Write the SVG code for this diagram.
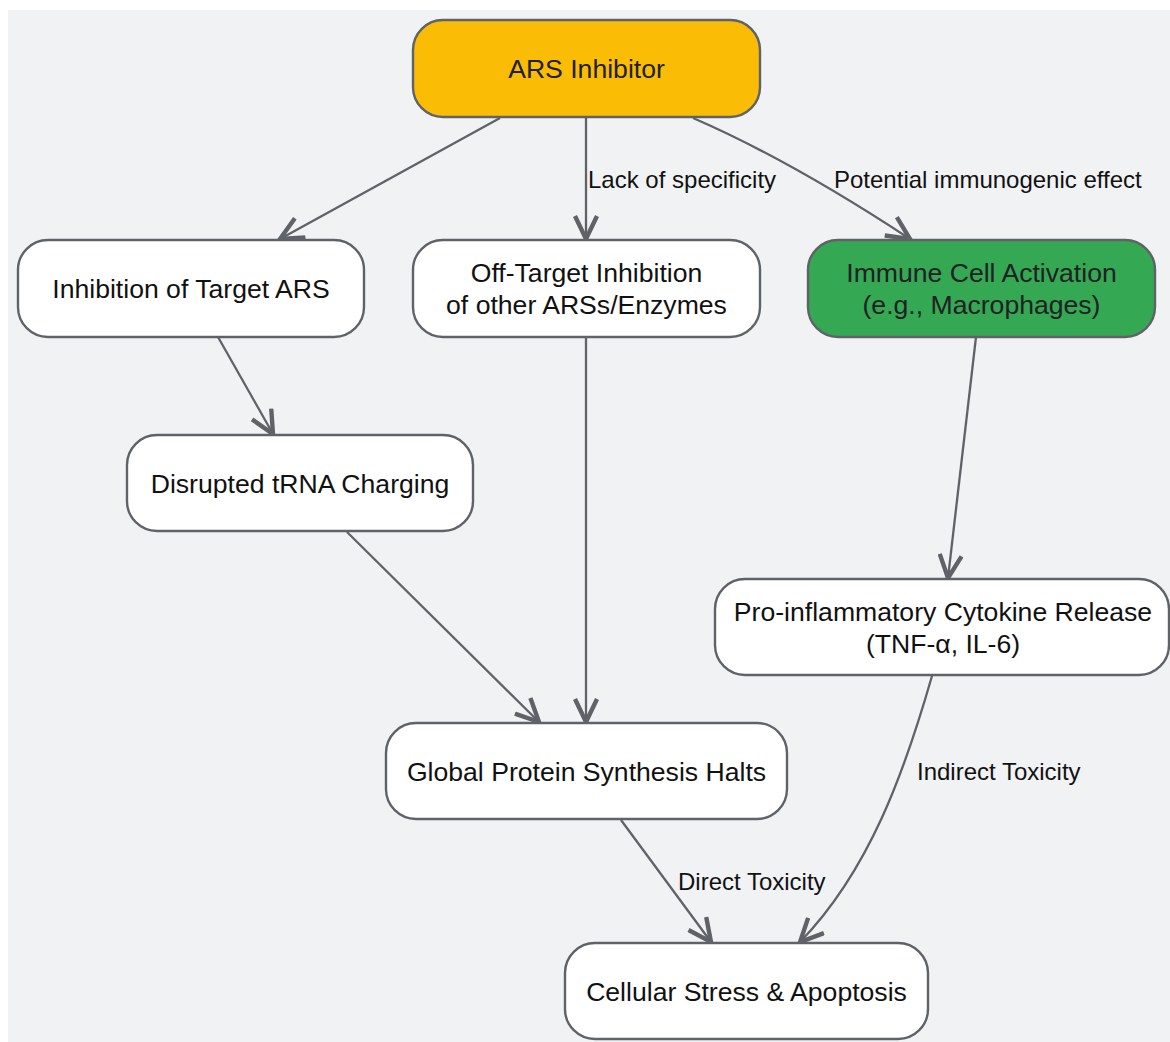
<svg xmlns="http://www.w3.org/2000/svg" width="1170" height="1042" viewBox="0 0 1170 1042">
<defs>
<style>
.node rect{stroke:#5f6368;stroke-width:2.4}
.node text{font-family:"Liberation Sans",Arial,sans-serif;font-size:26.6px;fill:#111111;text-anchor:middle}
.node.col text{fill:#202124}
.edge{fill:none;stroke:#5f6368;stroke-width:2.3}
.lbl{font-family:"Liberation Sans",Arial,sans-serif;font-size:24px;fill:#111111}
</style>
<marker id="arr" viewBox="0 0 26 26" refX="24" refY="13" markerWidth="26" markerHeight="26" markerUnits="userSpaceOnUse" orient="auto">
<path d="M1,2 L24,13 L1,24" fill="none" stroke="#5f6368" stroke-width="4.4" stroke-linejoin="miter"/>
</marker>
</defs>
<rect x="8" y="10" width="1162" height="1032" fill="#f1f2f4"/>
<g id="connectors">
<path class="edge" d="M500,118 L280,239" marker-end="url(#arr)"/>
<path class="edge" d="M586,118 L586,239" marker-end="url(#arr)"/>
<path class="edge" d="M693,118 Q790,160 910,239" marker-end="url(#arr)"/>
<path class="edge" d="M218,337 L273,434" marker-end="url(#arr)"/>
<path class="edge" d="M347,532 L539,722" marker-end="url(#arr)"/>
<path class="edge" d="M586,337 L586,722" marker-end="url(#arr)"/>
<path class="edge" d="M976,337 L948,578" marker-end="url(#arr)"/>
<path class="edge" d="M621,820 L711,942" marker-end="url(#arr)"/>
<path class="edge" d="M932,676 C905,770 870,870 800,942" marker-end="url(#arr)"/>
<text class="lbl" x="588" y="188">Lack of specificity</text>
<text class="lbl" x="834" y="188">Potential immunogenic effect</text>
<text class="lbl" x="678" y="890">Direct Toxicity</text>
<text class="lbl" x="917" y="780">Indirect Toxicity</text>
</g>
<g id="n-ars" class="node col">
<rect x="413" y="20" width="347" height="97" rx="30" fill="#fbbc05"/>
<text x="586.5" y="78">ARS Inhibitor</text>
</g>
<g id="n-target" class="node">
<rect x="18" y="240" width="346" height="97" rx="30" fill="#ffffff"/>
<text x="191" y="298">Inhibition of Target ARS</text>
</g>
<g id="n-offtarget" class="node">
<rect x="413" y="240" width="347" height="97" rx="30" fill="#ffffff"/>
<text x="586.5" y="282">Off-Target Inhibition</text>
<text x="586.5" y="314">of other ARSs/Enzymes</text>
</g>
<g id="n-immune" class="node col">
<rect x="808" y="240" width="347" height="97" rx="30" fill="#34a853"/>
<text x="981.5" y="282">Immune Cell Activation</text>
<text x="981.5" y="314">(e.g., Macrophages)</text>
</g>
<g id="n-trna" class="node">
<rect x="127" y="435" width="346" height="96" rx="30" fill="#ffffff"/>
<text x="300" y="493">Disrupted tRNA Charging</text>
</g>
<g id="n-cytokine" class="node">
<rect x="715" y="579" width="454" height="96" rx="30" fill="#ffffff"/>
<text x="943" y="621">Pro-inflammatory Cytokine Release</text>
<text x="943" y="653">(TNF-α, IL-6)</text>
</g>
<g id="n-protein" class="node">
<rect x="386" y="723" width="401" height="96" rx="30" fill="#ffffff"/>
<text x="586.5" y="781">Global Protein Synthesis Halts</text>
</g>
<g id="n-apoptosis" class="node">
<rect x="565" y="943" width="363" height="96" rx="30" fill="#ffffff"/>
<text x="746.5" y="1001">Cellular Stress &amp; Apoptosis</text>
</g>
</svg>
